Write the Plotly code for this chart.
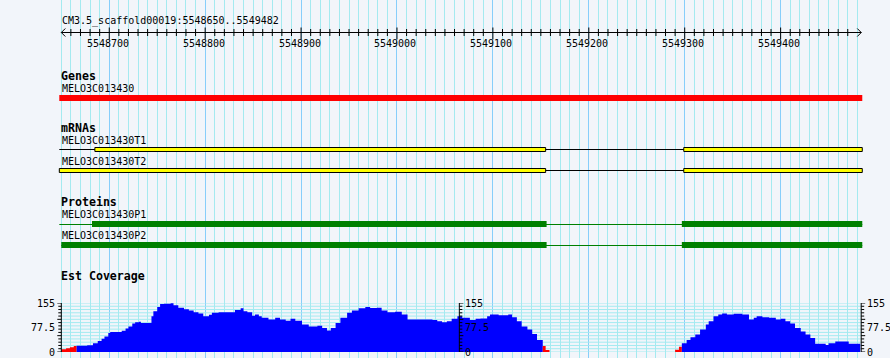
import plotly.graph_objects as go

# ---------------- data ----------------
REF_NAME = "CM3.5_scaffold00019"
VIEW_START = 5548650
VIEW_END = 5549482
RULER_LABELS = [5548700, 5548800, 5548900, 5549000, 5549100, 5549200, 5549300, 5549400]

TRACK_TITLES = ["Genes", "mRNAs", "Proteins", "Est Coverage"]

GENE_NAMES = ["MELO3C013430"]
GENE_STARTS = [5548400]
GENE_ENDS = [5549700]

MRNA_NAMES = ["MELO3C013430T1", "MELO3C013430T2"]
MRNA_STARTS = [5548400, 5548400]
MRNA_ENDS = [5549700, 5549700]
MRNA_EXON_STARTS = [[5548685, 5549299], [5548500, 5549299]]
MRNA_EXON_ENDS = [[5549155, 5549700], [5549155, 5549700]]

PROT_NAMES = ["MELO3C013430P1", "MELO3C013430P2"]
PROT_STARTS = [5548400, 5548650]
PROT_ENDS = [5549700, 5549700]
PROT_CDS_STARTS = [[5548682, 5549297], [5548650, 5549297]]
PROT_CDS_ENDS = [[5549156, 5549700], [5549156, 5549700]]

# Est coverage: step segments [COV_BOUNDS[i], COV_BOUNDS[i+1]) with COV_VALUES[i]
COV_BOUNDS = [
    5548650, 5548655, 5548659, 5548663, 5548666, 5548677, 5548683, 5548688, 5548692, 5548695,
    5548699, 5548701, 5548713, 5548717, 5548720, 5548724, 5548727, 5548731, 5548733, 5548744,
    5548746, 5548750, 5548753, 5548757, 5548764, 5548767, 5548772, 5548778, 5548783, 5548788,
    5548793, 5548798, 5548804, 5548807, 5548814, 5548831, 5548837, 5548840, 5548844, 5548849,
    5548852, 5548856, 5548859, 5548866, 5548873, 5548878, 5548884, 5548889, 5548894, 5548901,
    5548908, 5548917, 5548922, 5548927, 5548931, 5548936, 5548941, 5548948, 5548953, 5548960,
    5548967, 5548972, 5548979, 5548984, 5548990, 5548998, 5549005, 5549011, 5549037, 5549042,
    5549047, 5549052, 5549057, 5549063, 5549068, 5549076, 5549082, 5549087, 5549094, 5549097,
    5549106, 5549116, 5549120, 5549125, 5549130, 5549136, 5549141, 5549146, 5549152, 5549155,
    5549159, 5549290, 5549294, 5549297, 5549302, 5549306, 5549311, 5549316, 5549322, 5549325,
    5549330, 5549335, 5549339, 5549344, 5549351, 5549360, 5549367, 5549372, 5549375, 5549381,
    5549388, 5549395, 5549400, 5549405, 5549410, 5549415, 5549421, 5549426, 5549431, 5549436,
    5549447, 5549450, 5549457, 5549471, 5549483,
]
COV_VALUES = [
    9, 12, 15, 19, 20, 21, 28, 35, 42, 49,
    60, 63, 67, 74, 81, 90, 94, 96, 92, 113,
    129, 142, 152, 153, 154, 148, 140, 135, 131, 126,
    122, 113, 118, 124, 126, 133, 138, 129, 126, 115,
    119, 113, 108, 103, 108, 103, 99, 105, 99, 87,
    81, 83, 76, 68, 76, 92, 108, 124, 131, 138,
    142, 139, 140, 131, 126, 127, 119, 103, 101, 97,
    94, 97, 105, 113, 108, 101, 105, 106, 113, 119,
    116, 119, 110, 97, 81, 71, 57, 38, 19, 6,
    0, 7, 17, 28, 38, 47, 55, 71, 87, 97,
    113, 119, 122, 119, 121, 119, 103, 108, 113, 110,
    108, 103, 105, 97, 90, 76, 65, 55, 44, 26,
    22, 28, 33, 26,
]
COV_MAX = 155
COV_AXIS_VALUES = [155, 77.5, 0]
COV_AXIS_TEXT = ["155", "77.5", "0"]
COV_AXIS_POSITIONS = [5548650, 5549065, 5549484]
LOW_COVERAGE = 20

# ---------------- styling / layout ----------------
W, H = 890, 358
PX_PER_BP = 0.9591
LEFT_PX = 61.3
X0 = VIEW_START - LEFT_PX / PX_PER_BP
X1 = X0 + W / PX_PER_BP


def px(n):
    return n / PX_PER_BP


CLIP_LO = VIEW_START - px(2)
CLIP_HI = VIEW_END + px(3)

BG = "#F2F5FA"
GRID_MINOR = "#A4EAF0"
GRID_MAJOR = "#87CEFA"
MONO = "DejaVu Sans Mono"

fig = go.Figure()


def lines(xs_pairs, ys_pairs, color, width=1, yaxis="y"):
    xs, ys = [], []
    for (a, b), (c, d) in zip(xs_pairs, ys_pairs):
        xs += [a, b, None]
        ys += [c, d, None]
    fig.add_trace(go.Scatter(x=xs, y=ys, mode="lines", yaxis=yaxis,
                             line=dict(color=color, width=width),
                             hoverinfo="skip", showlegend=False))


shapes = []

# hide the axis grid outside the viewed region
for yref, (ya, yb) in (("y", (0, H)), ("y2", (-20, COV_MAX + 20))):
    shapes.append(dict(type="rect", xref="x", yref=yref, x0=X0 - 10, x1=VIEW_START - px(0.6),
                       y0=ya, y1=yb, fillcolor=BG, line=dict(width=0), layer="between"))
    shapes.append(dict(type="rect", xref="x", yref=yref, x0=VIEW_END + px(0.2), x1=X1 + 10,
                       y0=ya, y1=yb, fillcolor=BG, line=dict(width=0), layer="between"))

# ruler
ry = 32.5
lines([(VIEW_START, VIEW_END + px(2))], [(ry, ry)], "black")
rt = [t for t in range(VIEW_START + 10, VIEW_END - 5, 10)]
rminor = [t for t in rt if t % 100 != 0]
rmajor = [t for t in rt if t % 100 == 0]
lines([(t, t) for t in rminor], [(29, 36)] * len(rminor), "black")
lines([(t, t) for t in rmajor], [(27.5, 39.5)] * len(rmajor), "black")
lines([(VIEW_START, VIEW_START + px(4)), (VIEW_START, VIEW_START + px(4)),
       (VIEW_END + px(2), VIEW_END - px(2)), (VIEW_END + px(2), VIEW_END - px(2))],
      [(ry, 28.5), (ry, 36.5), (ry, 28.5), (ry, 36.5)], "black")

# coverage horizontal grid (y2)
nlev = 15
levels = [COV_MAX * k / nlev for k in range(nlev + 1)]
lines([(VIEW_START, COV_AXIS_POSITIONS[-1])] * len(levels), [(v, v) for v in levels],
      GRID_MINOR, yaxis="y2")

# coverage fill, colored runs
runs = []
for i, v in enumerate(COV_VALUES):
    if v <= 0:
        continue
    col = "#FF0000" if v < LOW_COVERAGE else "#0000FF"
    seg = (COV_BOUNDS[i], COV_BOUNDS[i + 1], v)
    if runs and runs[-1][0] == col and runs[-1][1][-1][1] == seg[0]:
        runs[-1][1].append(seg)
    else:
        runs.append((col, [seg]))
for col, segs in runs:
    xs = [segs[0][0]]
    ys = [0]
    for s, e, v in segs:
        xs += [s, e]
        ys += [v, v]
    xs.append(segs[-1][1])
    ys.append(0)
    fig.add_trace(go.Scatter(x=xs, y=ys, mode="lines", fill="toself", fillcolor=col,
                             line=dict(width=0, color=col), yaxis="y2",
                             hoverinfo="skip", showlegend=False))

# coverage axes
for k, pos in enumerate(COV_AXIS_POSITIONS):
    side = -1 if k == 0 else 1
    lines([(pos, pos)], [(0, COV_MAX)], "black", yaxis="y2")
    tl = [(pos, pos + side * px(3 if j % 5 else 4)) for j in range(nlev + 1)]
    lines(tl, [(v, v) for v in levels], "black", yaxis="y2")
    for val, txt in zip(COV_AXIS_VALUES, COV_AXIS_TEXT):
        fig.add_annotation(x=pos + side * px(4), y=val, xref="x", yref="y2", text=txt,
                           showarrow=False, xanchor="right" if side < 0 else "left",
                           yanchor="middle", font=dict(family=MONO, size=10, color="black"))


def clip(a, b):
    return max(a, CLIP_LO), min(b, CLIP_HI)


def rect(a, b, y0, y1, fill, border=None):
    a, b = clip(a, b)
    if b <= a:
        return
    shapes.append(dict(type="rect", xref="x", yref="y", x0=a, x1=b, y0=y0, y1=y1,
                       fillcolor=fill, layer="above",
                       line=dict(width=1 if border else 0, color=border or fill)))


# genes
for i in range(len(GENE_NAMES)):
    rect(GENE_STARTS[i], GENE_ENDS[i], 95, 101, "#FF0000")

# mRNAs
mrna_y = [149.5, 170.5]
for i in range(len(MRNA_NAMES)):
    a, b = clip(MRNA_STARTS[i], MRNA_ENDS[i])
    lines([(a, b)], [(mrna_y[i], mrna_y[i])], "black")
    for s, e in zip(MRNA_EXON_STARTS[i], MRNA_EXON_ENDS[i]):
        rect(s, e, mrna_y[i] - 2, mrna_y[i] + 2, "#FFFF00", "black")

# proteins
prot_y = [224, 245]
for i in range(len(PROT_NAMES)):
    a, b = clip(PROT_STARTS[i], PROT_ENDS[i])
    lines([(a, b)], [(prot_y[i] + 0.5, prot_y[i] + 0.5)], "#008000")
    for s, e in zip(PROT_CDS_STARTS[i], PROT_CDS_ENDS[i]):
        rect(s, e, prot_y[i] - 3, prot_y[i] + 3, "#008000")


def label(x, y, text, size=10, bold=False, anchor="left"):
    fig.add_annotation(x=x, y=y, xref="x", yref="y", text=f"<b>{text}</b>" if bold else text,
                       showarrow=False, xanchor=anchor, yanchor="middle",
                       font=dict(family=MONO, size=size, color="black"))


label(VIEW_START - px(1), 21, f"{REF_NAME}:{VIEW_START}..{VIEW_END}")
for t in RULER_LABELS:
    label(t - px(1.5), 43, str(t), anchor="center")

title_y = [75.5, 128, 202, 276]
for t, y in zip(TRACK_TITLES, title_y):
    label(VIEW_START - px(2), y, t, size=11.6, bold=True)
label(VIEW_START - px(1), 88, GENE_NAMES[0])
for n, y in zip(MRNA_NAMES, [140, 161]):
    label(VIEW_START - px(1), y, n)
for n, y in zip(PROT_NAMES, [214, 235]):
    label(VIEW_START - px(1), y, n)

fig.update_layout(
    width=W, height=H, margin=dict(l=0, r=0, t=0, b=0),
    paper_bgcolor=BG, plot_bgcolor=BG, showlegend=False,
    xaxis=dict(range=[X0, X1], fixedrange=True, showticklabels=False, ticks="",
               showline=False, zeroline=False,
               showgrid=True, tick0=0, dtick=100, gridcolor=GRID_MAJOR, gridwidth=1,
               minor=dict(dtick=10, tick0=0, showgrid=True, gridcolor=GRID_MINOR, gridwidth=1)),
    yaxis=dict(range=[H, 0], visible=False, domain=[0, 1], fixedrange=True),
    yaxis2=dict(range=[0, COV_MAX], visible=False, anchor="x",
                domain=[(H - 352) / H, (H - 303) / H], fixedrange=True),
    shapes=shapes,
)

fig.write_html("out.html")
